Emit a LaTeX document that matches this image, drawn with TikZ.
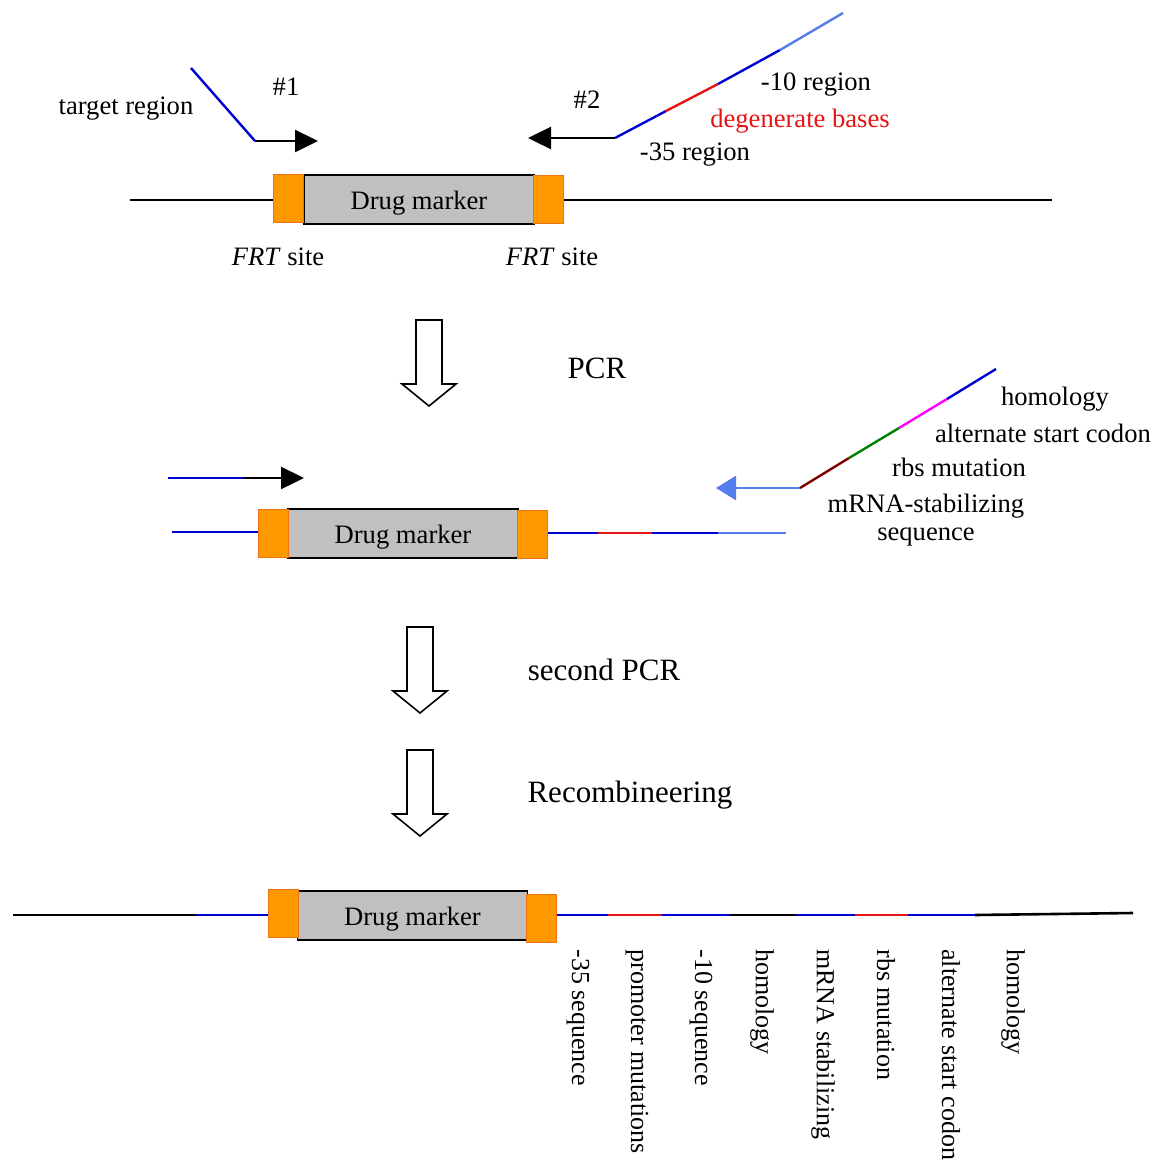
\documentclass[tikz,border=0pt]{standalone}
\usepackage{fontspec}
\setmainfont{Liberation Serif}
\usetikzlibrary{arrows.meta}

\definecolor{dnablue}{RGB}{0,0,210}
\definecolor{ltblue}{RGB}{85,125,235}
\definecolor{dnared}{RGB}{230,20,20}
\definecolor{dkred}{RGB}{128,0,0}
\definecolor{dnagreen}{RGB}{0,128,0}
\definecolor{dnamag}{RGB}{255,0,255}
\definecolor{frtorange}{RGB}{255,153,0}
\definecolor{frtedge}{RGB}{235,115,20}
\definecolor{markergray}{RGB}{192,192,192}

\tikzset{
  dna/.style={line width=1.3pt},
  primer/.style={line width=1.2pt},
  frt/.style={draw=frtedge, fill=frtorange, line width=0.5pt,
    minimum width=15pt, minimum height=24pt, inner sep=0pt},
  marker/.style={draw=black, fill=markergray, line width=0.7pt,
    minimum width=115pt, minimum height=24.5pt, inner sep=0pt,
    text height=13pt, text depth=2.9pt, font=\fontsize{13.3}{16}\selectfont},
  lbl/.style={font=\fontsize{13.3}{16}\selectfont, inner sep=0pt},
  steplbl/.style={font=\fontsize{15.5}{18}\selectfont, inner sep=0pt},
  vlbl/.style={font=\fontsize{13}{16}\selectfont, inner sep=0pt,
    rotate=-90, anchor=west},
  primerhead/.style={-{Triangle[length=11.5pt,width=11pt]}},
  hollow/.style={draw=black, line width=0.8pt, fill=white, line join=miter},
  downarrow/.pic={
    \draw[hollow] (-13,0) -- (13,0) -- (13,64) -- (27,64) -- (0,86)
      -- (-27,64) -- (-13,64) -- cycle;
  },
}

\begin{document}
\begin{tikzpicture}[x=0.5pt,y=-0.5pt]
\useasboundingbox (0,0) rectangle (1156,1163);

% ---------- template plasmid with primers #1 and #2 ----------
\coordinate (t0) at (130,200);
\coordinate (t9) at (1052,200);
\node[marker] (gm1) at (419,199.5) {Drug marker};
\node[frt] (fl1) at (288.5,198) {};
\node[frt] (fr1) at (548.5,199.5) {};
\draw[dna] (t0) -- (fl1.west |- t0);
\draw[dna] (fr1.east |- t9) -- (t9);
\node[lbl] (frt1) at (278,257) {\textit{FRT} site};
\node[lbl] (frt2) at (552,257) {\textit{FRT} site};

% primer #1
\coordinate (p1a) at (191,68);
\coordinate (p1b) at (255,141);
\coordinate (p1c) at (318,141);
\draw[primer,dnablue] (p1a) -- (p1b);
\draw[primer,primerhead] (p1b) -- (p1c);
\node[lbl] (n1) at (286,87) {\#1};
\node[lbl] (tr) at (126,109) {target region};

% primer #2
\coordinate (p2a) at (615,138);
\coordinate (p2b) at (666,111);
\coordinate (p2c) at (718,84);
\coordinate (p2d) at (780,50);
\coordinate (p2e) at (843,13);
\coordinate (p2t) at (528,138);
\draw[primer,primerhead] (p2a) -- (p2t);
\draw[primer,dnablue] (p2a) -- (p2b);
\draw[primer,dnared] (p2b) -- (p2c);
\draw[primer,dnablue] (p2c) -- (p2d);
\draw[primer,ltblue] (p2d) -- (p2e);
\node[lbl] (n2) at (587,100) {\#2};
\node[lbl] (m10) at (816,85) {-10 region};
\node[lbl,text=dnared] (deg) at (800,121) {degenerate bases};
\node[lbl] (m35) at (695,155) {-35 region};

% ---------- step arrows ----------
\pic at (429,320) {downarrow};
\node[steplbl] (s1) at (597,368) {PCR};
\pic at (420,627) {downarrow};
\node[steplbl] (s2) at (604,670) {second PCR};
\pic at (420,750) {downarrow};
\node[steplbl] (s3) at (630,795) {Recombineering};

% ---------- first PCR product with second-round primers ----------
\coordinate (q1a) at (168,478);
\coordinate (q1b) at (243,478);
\coordinate (q1c) at (304,478);
\draw[primer,dnablue] (q1a) -- (q1b);
\draw[primer,primerhead] (q1b) -- (q1c);

\coordinate (m0) at (172,532);
\node[marker] (gm2) at (403,533.5) {Drug marker};
\node[frt] (fl2) at (273,533) {};
\node[frt] (fr2) at (532.5,534.5) {};
\coordinate (m2) at (598,533);
\coordinate (m3) at (652,533);
\coordinate (m4) at (718,533);
\coordinate (m5) at (786,533);
\draw[dna,dnablue] (m0) -- (fl2.west |- m0);
\draw[dna,dnablue] (fr2.east |- m2) -- (m2);
\draw[dna,dnared] (m2) -- (m3);
\draw[dna,dnablue] (m3) -- (m4);
\draw[dna,ltblue] (m4) -- (m5);

% reverse primer
\coordinate (r0) at (800,488);
\coordinate (r1) at (849,458);
\coordinate (r2) at (899,428);
\coordinate (r3) at (947,399);
\coordinate (r4) at (996,369);
\coordinate (rt) at (716,488);
\draw[primer,ltblue,-{Triangle[length=10pt,width=12pt]}] (r0) -- (rt);
\draw[primer,dkred] (r0) -- (r1);
\draw[primer,dnagreen] (r1) -- (r2);
\draw[primer,dnamag] (r2) -- (r3);
\draw[primer,dnablue] (r3) -- (r4);
\node[lbl] (h1) at (1055,399) {homology};
\node[lbl] (asc) at (1043,433) {alternate start codon};
\node[lbl] (rbs) at (959,467) {rbs mutation};
\node[lbl] (mrna) at (926,506) {mRNA-stabilizing};
\node[lbl] (seq) at (926,537) {sequence};

% ---------- recombined chromosome ----------
\coordinate (b0) at (13,915);
\coordinate (b1) at (196,915);
\node[marker] (gm3) at (412.5,915.5) {Drug marker};
\node[frt] (fl3) at (283,913) {};
\node[frt] (fr3) at (541.5,918) {};
\coordinate (c1) at (608,915);
\coordinate (c2) at (662,915);
\coordinate (c3) at (730,915);
\coordinate (c4) at (796,915);
\coordinate (c5) at (855,915);
\coordinate (c6) at (908,915);
\coordinate (c7) at (975,915);
\coordinate (c8) at (1133,913);
\draw[dna] (b0) -- (b1);
\draw[dna,dnablue] (b1) -- (fl3.west |- b1);
\draw[dna,dnablue] (fr3.east |- c1) -- (c1);
\draw[dna,dnared] (c1) -- (c2);
\draw[dna,dnablue] (c2) -- (c3);
\draw[dna] (c3) -- (c4);
\draw[dna,dnablue] (c4) -- (c5);
\draw[dna,dnared] (c5) -- (c6);
\draw[dna,dnablue] (c6) -- (c7);
\draw[dna] (c7) -- (c8);

\node[vlbl] (v1) at (578,949) {-35 sequence};
\node[vlbl] (v2) at (637,949) {promoter mutations};
\node[vlbl] (v3) at (701,949) {-10 sequence};
\node[vlbl] (v4) at (762,949) {homology};
\node[vlbl] (v5) at (823,949) {mRNA stabilizing};
\node[vlbl] (v6) at (886,949) {rbs mutation};
\node[vlbl] (v7) at (951,949) {alternate start codon};
\node[vlbl] (v8) at (1013,949) {homology};
\end{tikzpicture}
\end{document}
